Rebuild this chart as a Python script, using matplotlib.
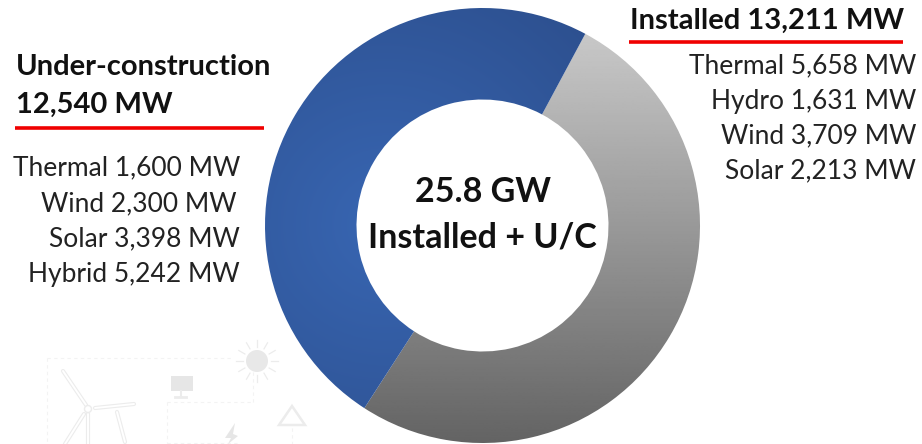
import numpy as np
import matplotlib
matplotlib.use('Agg')
import matplotlib.pyplot as plt
from matplotlib.patches import Circle, Wedge, Polygon

plt.rcParams['font.family'] = ['Lato', 'DejaVu Sans']

segments = ['Installed', 'Under-construction']
values = [13211, 12540]
centre_lines = ['25.8 GW', 'Installed + U/C']
installed_lines = ['Thermal 5,658 MW', 'Hydro 1,631 MW', 'Wind 3,709 MW', 'Solar 2,213 MW']
uc_lines = ['Thermal 1,600 MW', 'Wind 2,300 MW', 'Solar 3,398 MW', 'Hybrid 5,242 MW']

W, H = 922, 444
fig = plt.figure(figsize=(W / 100, H / 100), dpi=100)
ax = fig.add_axes([0, 0, 1, 1])
ax.axis('off')

# faint background artwork
faint = '#ececec'
for xs, ys in [([47, 232], [358, 358]), ([47, 47], [358, 444]), ([253, 253], [372, 402]),
               ([167, 253], [402, 402]), ([167, 167], [402, 444]), ([167, 240], [443, 443]),
               ([292, 292], [428, 444])]:
    ax.plot(xs, ys, color='#f3f3f3', lw=0.8, ls=(0, (3, 3)), zorder=0)
ax.add_patch(Circle((257, 361), 11, fc='#e8e8e8', ec='none', zorder=0))
for a in np.arange(0, 360, 30):
    ca, sa = np.cos(np.radians(a)), np.sin(np.radians(a))
    ax.plot([257 + 14 * ca, 257 + 21 * ca], [361 + 14 * sa, 361 + 21 * sa], color=faint, lw=0.9, zorder=0)
for x1, y1, x2, y2 in [(86, 405, 63, 371), (95, 408, 134, 404), (84, 414, 65, 444),
                       (88, 414, 88, 444), (117, 412, 125, 442)]:
    ax.plot([x1, x2], [y1, y2], color=faint, lw=3, solid_capstyle='round', zorder=0)
    ax.plot([x1, x2], [y1, y2], color='white', lw=1.4, solid_capstyle='round', zorder=0)
ax.add_patch(Circle((88, 409), 3.5, fc='white', ec=faint, lw=1, zorder=0))
ax.add_patch(Polygon([(171, 376), (193, 376), (193, 391), (171, 391)], fc='#e6e6e6', ec='none', zorder=0))
ax.plot([181, 181], [391, 396], color=faint, lw=1.5, zorder=0)
ax.plot([175, 186], [397, 397], color=faint, lw=2, zorder=0)
ax.add_patch(Polygon([(292, 406), (305, 425), (279, 425)], fc='none', ec=faint, lw=1.8, zorder=0))
ax.add_patch(Polygon([(235, 423), (225, 438), (231, 438), (228, 444), (238, 436), (233, 434)],
                     fc='#e6e6e6', ec='none', zorder=0))

cx, cy, r_out, r_in = 482.5, 225.5, 217.5, 126
start = -61.8  # where the grey part begins, degrees clockwise from east
split = start + 360 * values[0] / sum(values)
extent = (cx - r_out, cx + r_out, cy + r_out, cy - r_out)

# grey gradient, clipped to its wedge
grey = np.linspace(0.81, 0.39, 256).reshape(-1, 1)
im = ax.imshow(grey, cmap='gray', vmin=0, vmax=1, aspect='auto', extent=extent, zorder=1)
im.set_clip_path(Wedge((cx, cy), r_out, start, split, width=r_out - r_in, transform=ax.transData))

# blue gradient, lighter towards the inner left
yy, xx = np.mgrid[-1:1:300j, -1:1:300j]
dist = np.clip(np.hypot(xx + 0.45, yy) / 1.5, 0, 1)
rgb = np.zeros((300, 300, 3))
for i, (c0, c1) in enumerate(zip((0.22, 0.40, 0.70), (0.17, 0.30, 0.54))):
    rgb[..., i] = c0 + (c1 - c0) * dist
im2 = ax.imshow(rgb, aspect='auto', extent=extent, zorder=1)
im2.set_clip_path(Wedge((cx, cy), r_out, split, start + 360, width=r_out - r_in, transform=ax.transData))

ax.set_xlim(0, W)
ax.set_ylim(H, 0)

ax.text(483, 192, centre_lines[0], ha='center', va='center', fontsize=24.5, fontweight='bold', color='#111111', zorder=3)
ax.text(482.5, 237, centre_lines[1], ha='center', va='center', fontsize=24.5, fontweight='bold', color='#111111', zorder=3)

ax.text(630, 21, segments[0] + ' 13,211 MW', ha='left', va='center', fontsize=21, fontweight='bold', color='#111111')
ax.plot([629, 903], [42, 42], color='#f00000', lw=2.6, solid_capstyle='butt')
for i, t in enumerate(installed_lines):
    ax.text(916, 66 + i * 35, t, ha='right', va='center', fontsize=19, color='#222222')

ax.text(16, 67, segments[1], ha='left', va='center', fontsize=21, fontweight='bold', color='#111111')
ax.text(16, 105, '12,540 MW', ha='left', va='center', fontsize=21, fontweight='bold', color='#111111')
ax.plot([15, 264], [128, 128], color='#f00000', lw=2.6, solid_capstyle='butt')
uc_right = [240, 236, 240, 240]
for i, t in enumerate(uc_lines):
    ax.text(uc_right[i], 168 + i * 35.5, t, ha='right', va='center', fontsize=19, color='#222222')

fig.savefig('out.png', dpi=100)
